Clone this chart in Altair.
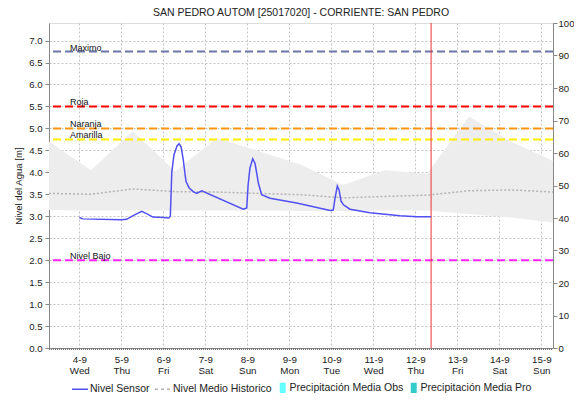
import altair as alt
import pandas as pd

# ---------------- data ----------------
sensor_time = [
    "2024-09-04T00:00:00Z", "2024-09-04T02:00:00Z", "2024-09-05T00:00:00Z", "2024-09-05T03:00:00Z",
    "2024-09-05T07:00:00Z", "2024-09-05T11:40:00Z", "2024-09-05T15:00:00Z", "2024-09-05T18:00:00Z",
    "2024-09-06T00:00:00Z", "2024-09-06T03:00:00Z", "2024-09-06T04:00:00Z", "2024-09-06T04:50:00Z",
    "2024-09-06T06:05:00Z", "2024-09-06T07:50:00Z", "2024-09-06T09:00:00Z", "2024-09-06T10:10:00Z",
    "2024-09-06T11:25:00Z", "2024-09-06T12:25:00Z", "2024-09-06T13:00:00Z", "2024-09-06T14:40:00Z",
    "2024-09-06T17:05:00Z", "2024-09-06T19:05:00Z", "2024-09-06T21:55:00Z", "2024-09-07T21:40:00Z",
    "2024-09-07T23:40:00Z", "2024-09-08T00:25:00Z", "2024-09-08T01:30:00Z", "2024-09-08T03:05:00Z",
    "2024-09-08T04:25:00Z", "2024-09-08T06:20:00Z", "2024-09-08T08:10:00Z", "2024-09-08T13:00:00Z",
    "2024-09-09T04:10:00Z", "2024-09-09T23:20:00Z", "2024-09-10T01:05:00Z", "2024-09-10T02:05:00Z",
    "2024-09-10T03:25:00Z", "2024-09-10T04:25:00Z", "2024-09-10T05:30:00Z", "2024-09-10T06:55:00Z",
    "2024-09-10T10:40:00Z", "2024-09-10T22:05:00Z", "2024-09-11T15:20:00Z", "2024-09-12T00:50:00Z",
    "2024-09-12T09:00:00Z",
]
sensor_level = [
    2.97, 2.94, 2.92, 2.93,
    3.02, 3.11, 3.05, 2.98,
    2.97, 2.96, 3.00, 4.00,
    4.40, 4.60, 4.65, 4.58,
    4.28, 3.95, 3.79, 3.65,
    3.56, 3.52, 3.58, 3.16,
    3.19, 3.70, 4.10, 4.31,
    4.20, 3.75, 3.49, 3.41,
    3.30, 3.13, 3.14, 3.40,
    3.69, 3.60, 3.35, 3.26,
    3.16, 3.08, 3.01, 2.99,
    2.99,
]

hist_time = [
    "2024-09-03T06:40:00Z", "2024-09-04T06:40:00Z", "2024-09-05T06:40:00Z", "2024-09-06T06:40:00Z",
    "2024-09-07T06:40:00Z", "2024-09-08T06:40:00Z", "2024-09-09T06:40:00Z", "2024-09-10T06:40:00Z",
    "2024-09-11T06:40:00Z", "2024-09-12T06:40:00Z", "2024-09-13T06:40:00Z", "2024-09-14T06:40:00Z",
    "2024-09-15T06:40:00Z",
]
hist_upper = [4.70, 4.05, 4.94, 4.02, 4.78, 4.48, 4.17, 3.71, 4.05, 3.97, 5.27, 4.70, 4.26]
hist_lower = [3.14, 3.13, 3.13, 3.13, 3.13, 3.13, 3.12, 3.12, 3.13, 3.13, 3.05, 2.97, 2.86]
hist_mean = [3.52, 3.50, 3.62, 3.56, 3.55, 3.52, 3.49, 3.42, 3.45, 3.48, 3.58, 3.60, 3.55]

thr_names = ["Maximo", "Roja", "Naranja", "Amarilla", "Nivel Bajo"]
thr_values = [6.75, 5.5, 5.0, 4.75, 2.0]
thr_colors = ["#6a76a8", "#ff0000", "#ff9411", "#ffee00", "#ff22ff"]

now_time = ["2024-09-12T09:00:00Z"]

line_names = ["Nivel Sensor", "Nivel Medio Historico"]
line_colors = ["#5050f2", "#b4b4b4"]
precip_names = ["Precipitación Media Obs", "Precipitación Media Pro"]
precip_colors = ["#66ffff", "#33cccc"]
precip_values = [0, 0]   # no precipitation drawn in the reference

day_ticks = [4, 5, 6, 7, 8, 9, 10, 11, 12, 13, 14, 15]
left_ticks = [0.0, 0.5, 1.0, 1.5, 2.0, 2.5, 3.0, 3.5, 4.0, 4.5, 5.0, 5.5, 6.0, 6.5, 7.0]
right_ticks = [0, 10, 20, 30, 40, 50, 60, 70, 80, 90, 100]

TITLE = "SAN PEDRO AUTOM  [25017020] - CORRIENTE: SAN PEDRO"
FONT = "Liberation Sans"
W, H = 504, 325

# ---------------- frames ----------------
df_sensor = pd.DataFrame({"t": sensor_time, "nivel": sensor_level, "serie": line_names[0]})
df_hist = pd.DataFrame({"t": hist_time, "up": hist_upper, "lo": hist_lower,
                        "nivel": hist_mean, "serie": line_names[1]})
df_thr = pd.DataFrame({"name": thr_names, "v": thr_values})
df_now = pd.DataFrame({"t": now_time})
df_precip = pd.DataFrame({"precip": precip_names, "p": precip_values})

xscale = alt.Scale(type="utc",
                   domain=[alt.DateTime(year=2024, month=9, date=3, hours=6, minutes=40, utc=True),
                           alt.DateTime(year=2024, month=9, date=15, hours=6, minutes=40, utc=True)])
xaxis = alt.Axis(
    values=[alt.DateTime(year=2024, month=9, date=d, utc=True) for d in day_ticks],
    labelExpr="[utcFormat(datum.value, '%-d-%-m'), utcFormat(datum.value, '%a')]",
    title=None, grid=True, gridColor="#c4c4c4", gridDash=[2, 2], gridWidth=1,
    domainColor="#888888", tickColor="#888888", tickSize=0,
    labelFont=FONT, labelFontSize=9.8, labelColor="#222222", labelPadding=6,
    labelLineHeight=11, labelFlush=False,
)
yscale = alt.Scale(domain=[0, 7.4], nice=False, zero=False)
yaxis = alt.Axis(
    values=left_ticks, format=".1f", title="Nivel del Agua [m]",
    titleFont=FONT, titleFontSize=9.6, titleFontWeight="normal", titleColor="#222222", titlePadding=5,
    grid=True, gridColor="#c4c4c4", gridDash=[2, 2], gridWidth=1,
    domainColor="#888888", tickColor="#888888", tickSize=4,
    labelFont=FONT, labelFontSize=9.6, labelColor="#222222", labelPadding=3,
)


def X(field="t"):
    return alt.X(f"{field}:T", scale=xscale, axis=xaxis)


def Y(field):
    return alt.Y(f"{field}:Q", scale=yscale, axis=yaxis)


band = alt.Chart(df_hist).mark_area(color="#ededed", opacity=1).encode(
    x=X(), y=Y("up"), y2=alt.Y2("lo:Q"))

line_legend = alt.Legend(
    orient="none", legendX=22, legendY=357, direction="horizontal", title=None,
    labelFont=FONT, labelFontSize=10.5, labelColor="#222222", labelOffset=1,
    columnPadding=2, symbolSize=256, symbolType="stroke", symbolStrokeWidth=1.5,
    symbolDash={"expr": "datum.value == 'Nivel Medio Historico' ? [3, 3] : [1, 0]"},
)
color = alt.Color("serie:N", scale=alt.Scale(domain=line_names, range=line_colors), legend=line_legend)

mean_line = alt.Chart(df_hist).mark_line(strokeDash=[2, 2], strokeWidth=1.5).encode(
    x=X(), y=Y("nivel"), color=color)

thr_rules = alt.Chart(df_thr).mark_rule(strokeDash=[8, 4], strokeWidth=2).encode(
    y=Y("v"),
    stroke=alt.Stroke("name:N", scale=alt.Scale(domain=thr_names, range=thr_colors), legend=None))

thr_text = alt.Chart(df_thr).mark_text(
    align="left", baseline="bottom", dy=1, font=FONT, fontSize=9, color="#111111").encode(
    x=alt.value(21), y=Y("v"), text="name:N")

now_rule = alt.Chart(df_now).mark_rule(color="#ee3333", strokeWidth=1).encode(x=X())

sensor_line = alt.Chart(df_sensor).mark_line(strokeWidth=1.5).encode(
    x=X(), y=Y("nivel"), color=color)

# dense minor-tick strip along the bottom axis (decoration)
minor_strip = alt.Chart(df_now).mark_rule(color="#777777", strokeWidth=2, strokeDash=[1, 1]).encode(
    x=alt.value(0), x2=alt.value(W), y=alt.value(H + 1))

left = alt.layer(band, mean_line, thr_rules, thr_text, now_rule, sensor_line, minor_strip)

precip_legend = alt.Legend(
    orient="none", legendX=228.5, legendY=359.5, direction="horizontal", title=None,
    labelFont=FONT, labelFontSize=10.5, labelColor="#222222", labelOffset=1.5,
    columnPadding=5, symbolSize=36, symbolType="M-1,-1.7H1V1.7H-1Z",
    symbolStrokeWidth=0, symbolOpacity=1,
)
right = alt.Chart(df_precip).mark_point(opacity=0, filled=True).encode(
    y=alt.Y("p:Q", scale=alt.Scale(domain=[0, 100], nice=False),
            axis=alt.Axis(orient="right", values=right_ticks, title=None, grid=False,
                          domainColor="#888888", tickColor="#888888", tickSize=4,
                          labelFont=FONT, labelFontSize=9.6, labelColor="#222222", labelPadding=1)),
    fill=alt.Fill("precip:N", scale=alt.Scale(domain=precip_names, range=precip_colors),
                  legend=precip_legend),
)

chart = alt.layer(left, right).resolve_scale(y="independent").properties(
    width=W, height=H,
    title=alt.TitleParams(TITLE, font=FONT, fontSize=10.5, fontWeight="normal", color="#222222",
                          anchor="middle", offset=-0.5),
    autosize=alt.AutoSizeParams(type="none"),
    padding={"left": 41, "top": 15, "right": 21, "bottom": 46},
).configure_view(stroke=None).configure(background="white")

chart.save("out.html", embed_options={"renderer": "svg", "actions": False})
